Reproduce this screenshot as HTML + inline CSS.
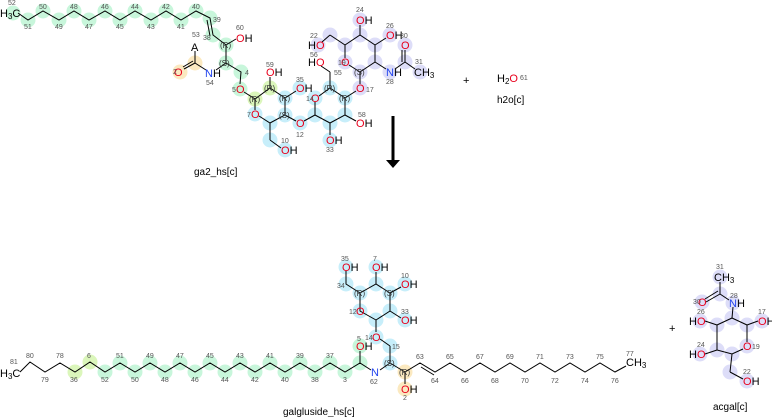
<!DOCTYPE html>
<html><head><meta charset="utf-8"><style>
html,body{margin:0;padding:0;background:#fff;width:772px;height:417px;overflow:hidden}
svg text{font-family:"Liberation Sans","DejaVu Sans",sans-serif}
.a{font-size:11px;fill:#000}
.r{fill:#e8001c}
.b{fill:#2244ee}
.n{font-size:7px;fill:#555}
.s{font-size:8px;fill:#333}
.l{font-size:10px;fill:#000;font-family:"DejaVu Sans Mono","Liberation Mono",monospace}
</style></head><body>
<svg width="772" height="417" viewBox="0 0 772 417" xmlns="http://www.w3.org/2000/svg">
<g opacity="0.95">
<g fill="#c6f6da">
<circle cx="13" cy="13" r="7.5"/><circle cx="28" cy="20" r="7.5"/><circle cx="43" cy="11" r="7.5"/><circle cx="59" cy="20" r="7.5"/><circle cx="74" cy="11" r="7.5"/><circle cx="89" cy="20" r="7.5"/><circle cx="105" cy="11" r="7.5"/><circle cx="120" cy="20" r="7.5"/><circle cx="135" cy="11" r="7.5"/><circle cx="151" cy="20" r="7.5"/><circle cx="166" cy="11" r="7.5"/><circle cx="181" cy="20" r="7.5"/><circle cx="196" cy="11" r="7.5"/><circle cx="210" cy="18" r="7.5"/><circle cx="213" cy="35" r="7.5"/><circle cx="226" cy="45" r="7.5"/><circle cx="226" cy="63" r="7.5"/><circle cx="241" cy="72" r="7.5"/><circle cx="240" cy="89" r="7.5"/>
<circle cx="105" cy="372" r="7.5"/><circle cx="120" cy="363" r="7.5"/><circle cx="135" cy="372" r="7.5"/><circle cx="150" cy="363" r="7.5"/><circle cx="165" cy="372" r="7.5"/><circle cx="180" cy="363" r="7.5"/><circle cx="195" cy="372" r="7.5"/><circle cx="210" cy="363" r="7.5"/><circle cx="225" cy="372" r="7.5"/><circle cx="240" cy="363" r="7.5"/><circle cx="255" cy="372" r="7.5"/><circle cx="270" cy="363" r="7.5"/><circle cx="285" cy="372" r="7.5"/><circle cx="300" cy="363" r="7.5"/><circle cx="315" cy="372" r="7.5"/><circle cx="330" cy="363" r="7.5"/><circle cx="345" cy="372" r="7.5"/><circle cx="360" cy="363" r="7.5"/><circle cx="360" cy="346" r="7.5"/>
</g>
<g fill="#fbe8bd"><circle cx="195" cy="63" r="7.5"/><circle cx="180" cy="72" r="7.5"/><circle cx="405" cy="372" r="7.5"/><circle cx="405" cy="389" r="7.5"/></g>
<g fill="#daf6b8"><circle cx="255" cy="99" r="7.5"/><circle cx="270" cy="88" r="7.5"/><circle cx="75" cy="372" r="7.5"/><circle cx="90" cy="362" r="7.5"/></g>
<g fill="#c5eefa">
<circle cx="255" cy="114" r="7.5"/><circle cx="270" cy="123" r="7.5"/><circle cx="270" cy="140" r="7.5"/><circle cx="285" cy="150" r="7.5"/><circle cx="285" cy="98" r="7.5"/><circle cx="300" cy="88" r="7.5"/><circle cx="285" cy="115" r="7.5"/><circle cx="300" cy="123" r="7.5"/><circle cx="315" cy="115" r="7.5"/><circle cx="315" cy="98" r="7.5"/><circle cx="330" cy="88" r="7.5"/><circle cx="345" cy="98" r="7.5"/><circle cx="345" cy="115" r="7.5"/><circle cx="330" cy="123" r="7.5"/><circle cx="330" cy="140" r="7.5"/>
<circle cx="346" cy="267" r="7.5"/><circle cx="346" cy="284" r="7.5"/><circle cx="360" cy="293" r="7.5"/><circle cx="376" cy="267" r="7.5"/><circle cx="376" cy="284" r="7.5"/><circle cx="390" cy="293" r="7.5"/><circle cx="405" cy="284" r="7.5"/><circle cx="360" cy="311" r="7.5"/><circle cx="376" cy="320" r="7.5"/><circle cx="390" cy="311" r="7.5"/><circle cx="405" cy="320" r="7.5"/><circle cx="376" cy="337" r="7.5"/><circle cx="390" cy="346" r="7.5"/><circle cx="390" cy="363" r="7.5"/>
</g>
<g fill="#dcdcf8">
<circle cx="360" cy="88" r="7.5"/><circle cx="360" cy="72" r="7.5"/><circle cx="345" cy="62" r="7.5"/><circle cx="345" cy="45" r="7.5"/><circle cx="330" cy="35" r="7.5"/><circle cx="318" cy="45" r="7.5"/><circle cx="360" cy="35" r="7.5"/><circle cx="360" cy="20" r="7.5"/><circle cx="375" cy="45" r="7.5"/><circle cx="390" cy="35" r="7.5"/><circle cx="375" cy="62" r="7.5"/><circle cx="390" cy="72" r="7.5"/><circle cx="405" cy="62" r="7.5"/><circle cx="405" cy="45" r="7.5"/><circle cx="420" cy="72" r="7.5"/>
<circle cx="720" cy="277" r="7.5"/><circle cx="720" cy="294" r="7.5"/><circle cx="702" cy="302" r="7.5"/><circle cx="733" cy="303" r="7.5"/><circle cx="732" cy="318" r="7.5"/><circle cx="747" cy="325" r="7.5"/><circle cx="762" cy="321" r="7.5"/><circle cx="717" cy="325" r="7.5"/><circle cx="700" cy="321" r="7.5"/><circle cx="717" cy="350" r="7.5"/><circle cx="700" cy="354" r="7.5"/><circle cx="747" cy="346" r="7.5"/><circle cx="732" cy="354" r="7.5"/><circle cx="730" cy="372" r="7.5"/><circle cx="747" cy="381" r="7.5"/>
</g>
</g>
<g stroke="#000" stroke-width="1" fill="none">
<polyline points="18,13 28,20 43,11 59,20 74,11 89,20 105,11 120,20 135,11 151,20 166,11 181,20 196,11 210,18 213,35 226,45 226,63 241,72 240,84"/>
<line x1="207" y1="20" x2="210" y2="36"/>
<line x1="226" y1="45" x2="236" y2="39"/><line x1="226" y1="63" x2="216" y2="70"/>
<line x1="206" y1="70" x2="195" y2="63"/><line x1="195" y1="63" x2="184" y2="69"/><line x1="193" y1="61" x2="183" y2="67"/><line x1="195" y1="63" x2="195" y2="51"/>
<line x1="244" y1="92" x2="255" y2="99"/>
<polyline points="255,99 270,88 285,98 285,115 270,123 259,116"/><line x1="255" y1="99" x2="255" y2="110"/>
<line x1="270" y1="123" x2="270" y2="140"/><line x1="270" y1="140" x2="281" y2="148"/>
<line x1="270" y1="88" x2="270" y2="77"/><line x1="285" y1="98" x2="296" y2="91"/>
<line x1="285" y1="115" x2="296" y2="121"/><line x1="304" y1="121" x2="315" y2="115"/>
<polyline points="315,115 315,102"/><polyline points="319,96 330,88 345,98 345,115 330,123 315,115"/>
<line x1="330" y1="123" x2="330" y2="135"/><line x1="345" y1="115" x2="356" y2="121"/>
<line x1="345" y1="98" x2="356" y2="91"/><line x1="360" y1="84" x2="360" y2="72"/>
<line x1="330" y1="88" x2="330" y2="72"/><line x1="330" y1="72" x2="321" y2="66"/>
<polyline points="360,72 349,65"/><polyline points="345,58 345,45 360,35 375,45 375,62 360,72"/>
<line x1="345" y1="45" x2="330" y2="35"/><line x1="330" y1="35" x2="322" y2="42"/>
<line x1="360" y1="35" x2="360" y2="25"/><line x1="375" y1="45" x2="386" y2="38"/>
<line x1="375" y1="62" x2="386" y2="69"/><line x1="395" y1="69" x2="405" y2="62"/>
<line x1="405" y1="62" x2="405" y2="50"/><line x1="402" y1="62" x2="402" y2="50"/><line x1="405" y1="62" x2="415" y2="69"/>
<polyline points="20,372 30,362 45,372 60,363 75,372 90,362 105,372 120,363 135,372 150,363 165,372 180,363 195,372 210,363 225,372 240,363 255,372 270,363 285,372 300,363 315,372 330,363 345,372 360,363 371,370"/>
<line x1="360" y1="363" x2="360" y2="351"/>
<line x1="380" y1="370" x2="390" y2="363"/><line x1="390" y1="363" x2="390" y2="346"/><line x1="390" y1="346" x2="380" y2="339"/>
<line x1="390" y1="363" x2="405" y2="372"/><line x1="405" y1="372" x2="405" y2="384"/>
<polyline points="405,372 420,363 435,372 450,363 465,372 480,363 495,372 510,363 525,372 540,363 555,372 570,363 585,372 600,363 615,372 626,366"/>
<line x1="421" y1="367" x2="434" y2="375"/>
<line x1="376" y1="332" x2="376" y2="320"/>
<polyline points="376,320 360,311 360,293 346,284 346,271"/><polyline points="360,293 376,284 390,293 390,311 376,320"/>
<line x1="376" y1="284" x2="376" y2="272"/><line x1="390" y1="293" x2="401" y2="287"/><line x1="390" y1="311" x2="401" y2="318"/>
<line x1="720" y1="282" x2="720" y2="294"/><line x1="720" y1="294" x2="706" y2="302"/><line x1="718" y1="291" x2="705" y2="299"/><line x1="720" y1="294" x2="729" y2="300"/>
<line x1="733" y1="307" x2="732" y2="318"/>
<polyline points="732,318 747,325 747,342"/><polyline points="743,349 732,354 717,350 717,325 732,318"/>
<line x1="747" y1="325" x2="758" y2="321"/><line x1="717" y1="325" x2="705" y2="321"/><line x1="717" y1="350" x2="705" y2="354"/>
<line x1="732" y1="354" x2="730" y2="372"/><line x1="730" y1="372" x2="743" y2="379"/>
</g>
<line x1="393" y1="116" x2="393" y2="160" stroke="#000" stroke-width="3"/>
<polygon points="386,160 400,160 393,168" fill="#000"/>
<g class="a">
<text x="0" y="17">H<tspan font-size="8" dy="2">3</tspan><tspan dy="-2">C</tspan></text>
<text x="236" y="42"><tspan class="r">O</tspan>H</text>
<text x="191" y="51">A</text>
<text x="174" y="76" class="r">O</text>
<text x="205" y="77"><tspan class="b">N</tspan>H</text>
<text x="236" y="93" class="r">O</text>
<text x="251" y="118" class="r">O</text>
<text x="266" y="76"><tspan class="r">O</tspan>H</text>
<text x="296" y="92"><tspan class="r">O</tspan>H</text>
<text x="296" y="127" class="r">O</text>
<text x="281" y="154"><tspan class="r">O</tspan>H</text>
<text x="311" y="102" class="r">O</text>
<text x="326" y="144"><tspan class="r">O</tspan>H</text>
<text x="356" y="127"><tspan class="r">O</tspan>H</text>
<text x="356" y="92" class="r">O</text>
<text x="308" y="66">H<tspan class="r">O</tspan></text>
<text x="341" y="66" class="r">O</text>
<text x="308" y="49">H<tspan class="r">O</tspan></text>
<text x="356" y="24"><tspan class="r">O</tspan>H</text>
<text x="386" y="39"><tspan class="r">O</tspan>H</text>
<text x="386" y="76"><tspan class="b">N</tspan>H</text>
<text x="401" y="49" class="r">O</text>
<text x="414" y="76">CH<tspan font-size="8" dy="2">3</tspan></text>
<text x="463" y="84">+</text>
<text x="497" y="82">H<tspan font-size="8" dy="2">2</tspan><tspan dy="-2" class="r">O</tspan></text>
<text x="0" y="377">H<tspan font-size="8" dy="2">3</tspan><tspan dy="-2">C</tspan></text>
<text x="342" y="271"><tspan class="r">O</tspan>H</text>
<text x="372" y="271"><tspan class="r">O</tspan>H</text>
<text x="401" y="288"><tspan class="r">O</tspan>H</text>
<text x="356" y="315" class="r">O</text>
<text x="401" y="324"><tspan class="r">O</tspan>H</text>
<text x="372" y="341" class="r">O</text>
<text x="356" y="350"><tspan class="r">O</tspan>H</text>
<text x="371" y="376" class="b">N</text>
<text x="401" y="393"><tspan class="r">O</tspan>H</text>
<text x="626" y="366">CH<tspan font-size="8" dy="2">3</tspan></text>
<text x="669" y="332">+</text>
<text x="714" y="281">CH<tspan font-size="8" dy="2">3</tspan></text>
<text x="698" y="306" class="r">O</text>
<text x="729" y="307"><tspan class="b">N</tspan>H</text>
<text x="758" y="325"><tspan class="r">O</tspan>H</text>
<text x="689" y="325">H<tspan class="r">O</tspan></text>
<text x="743" y="350" class="r">O</text>
<text x="689" y="358">H<tspan class="r">O</tspan></text>
<text x="743" y="385"><tspan class="r">O</tspan>H</text>
</g>
<g class="s">
<text x="220" y="48">(R)</text><text x="219" y="66">(S)</text><text x="249" y="102">(R)</text><text x="264" y="91">(R)</text><text x="279" y="101">(R)</text><text x="279" y="118">(S)</text><text x="324" y="91">(R)</text><text x="339" y="101">(R)</text><text x="354" y="75">(S)</text>
<text x="354" y="296">(R)</text><text x="384" y="296">(S)</text><text x="384" y="366">(S)</text><text x="399" y="375">(R)</text>
</g>
<g class="n">
<text x="8" y="5">52</text><text x="24" y="29">51</text><text x="39" y="9">50</text><text x="55" y="29">49</text><text x="70" y="9">48</text><text x="85" y="29">47</text><text x="101" y="9">46</text><text x="116" y="29">45</text><text x="131" y="9">44</text><text x="147" y="29">43</text><text x="162" y="9">42</text><text x="177" y="29">41</text><text x="192" y="9">40</text><text x="213" y="22">39</text><text x="203" y="40">38</text>
<text x="236" y="30">60</text><text x="192" y="37">53</text><text x="173" y="74">2</text><text x="206" y="85">54</text><text x="245" y="75">4</text><text x="232" y="92">5</text><text x="247" y="117">7</text><text x="266" y="67">59</text><text x="296" y="82">35</text><text x="296" y="137">12</text><text x="281" y="143">10</text><text x="306" y="101">14</text><text x="326" y="152">33</text><text x="358" y="117">58</text><text x="366" y="92">17</text><text x="334" y="75">55</text><text x="310" y="57">56</text><text x="310" y="38">22</text><text x="338" y="65">19</text><text x="356" y="12">24</text><text x="386" y="28">26</text><text x="400" y="38">30</text><text x="415" y="64">31</text><text x="386" y="84">28</text>
<text x="10" y="364">81</text><text x="26" y="358">80</text><text x="41" y="382">79</text><text x="56" y="358">78</text><text x="70" y="382">36</text><text x="87" y="358">6</text><text x="101" y="382">52</text><text x="116" y="358">51</text><text x="131" y="382">50</text><text x="146" y="358">49</text><text x="161" y="382">48</text><text x="176" y="358">47</text><text x="191" y="382">46</text><text x="206" y="358">45</text><text x="221" y="382">44</text><text x="236" y="358">43</text><text x="251" y="382">42</text><text x="266" y="358">41</text><text x="281" y="382">40</text><text x="296" y="358">39</text><text x="311" y="382">38</text><text x="326" y="358">37</text><text x="343" y="382">3</text>
<text x="341" y="261">35</text><text x="337" y="288">34</text><text x="373" y="261">7</text><text x="401" y="278">10</text><text x="349" y="314">12</text><text x="401" y="314">33</text><text x="365" y="340">14</text><text x="357" y="341">5</text><text x="392" y="349">15</text><text x="370" y="384">62</text><text x="403" y="400">2</text>
<text x="416" y="359">63</text><text x="431" y="383">64</text><text x="446" y="359">65</text><text x="461" y="383">66</text><text x="476" y="359">67</text><text x="491" y="383">68</text><text x="506" y="359">69</text><text x="521" y="383">70</text><text x="536" y="359">71</text><text x="551" y="383">72</text><text x="566" y="359">73</text><text x="581" y="383">74</text><text x="596" y="359">75</text><text x="611" y="383">76</text><text x="626" y="356">77</text>
<text x="716" y="269">31</text><text x="693" y="304">30</text><text x="730" y="298">28</text><text x="697" y="314">26</text><text x="758" y="314">17</text><text x="752" y="349">19</text><text x="697" y="347">24</text><text x="743" y="374">22</text><text x="520" y="80">61</text>
</g>
<g class="l">
<text x="194" y="175">ga2_hs[c]</text>
<text x="497" y="103">h2o[c]</text>
<text x="283" y="415">galgluside_hs[c]</text>
<text x="713" y="410">acgal[c]</text>
</g>
</svg>
</body></html>
